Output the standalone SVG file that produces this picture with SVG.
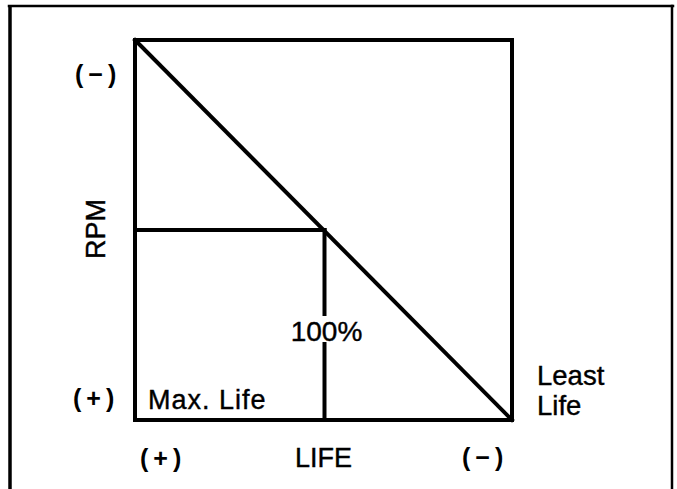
<svg xmlns="http://www.w3.org/2000/svg" width="677" height="489" viewBox="0 0 677 489">
<style>
.frame{fill:none;stroke:#000;stroke-linecap:square}
.ln{fill:none;stroke:#000;stroke-width:4;stroke-linecap:square}
.t{font-family:"Liberation Sans",Arial,Helvetica,sans-serif;fill:#000;stroke:#000;stroke-width:0.4}
.sign{font-family:"Liberation Sans",Arial,Helvetica,sans-serif;font-weight:bold;font-size:25px;letter-spacing:5px;fill:#000}
</style>
<rect width="677" height="489" fill="#fff"/>
<g id="frame">
<line class="frame" x1="10" y1="7" x2="10" y2="489" stroke-width="3.5"/>
<line class="frame" x1="9" y1="6" x2="673" y2="6" stroke-width="2.5"/>
<line class="frame" x1="672" y1="6" x2="672" y2="489" stroke-width="2.5"/>
</g>
<g id="chart">
<rect class="ln" x="135" y="40" width="377" height="380"/>
<line class="ln" x1="135" y1="40" x2="512" y2="420"/>
<line class="ln" x1="135" y1="230" x2="324.5" y2="230"/>
<line class="ln" x1="324.5" y1="230" x2="324.5" y2="314"/>
<line class="ln" x1="324.5" y1="344" x2="324.5" y2="420"/>
</g>
<g id="labels">
<text class="t" x="326.5" y="341" font-size="28" text-anchor="middle">100%</text>
<text class="t" x="148" y="409" font-size="27" letter-spacing="1">Max. Life</text>
<text class="t" x="537" y="385" font-size="27.5">Least</text>
<text class="t" x="537" y="415" font-size="27.5">Life</text>
<text class="t" x="323.5" y="467" font-size="27" text-anchor="middle">LIFE</text>
<text class="t" transform="translate(105,229) rotate(-90)" font-size="27" text-anchor="middle">RPM</text>
<text class="sign" x="75" y="83">(−)</text>
<text class="sign" x="73" y="407">(+)</text>
<text class="sign" x="140" y="467">(+)</text>
<text class="sign" x="462" y="466">(−)</text>
</g>
</svg>
